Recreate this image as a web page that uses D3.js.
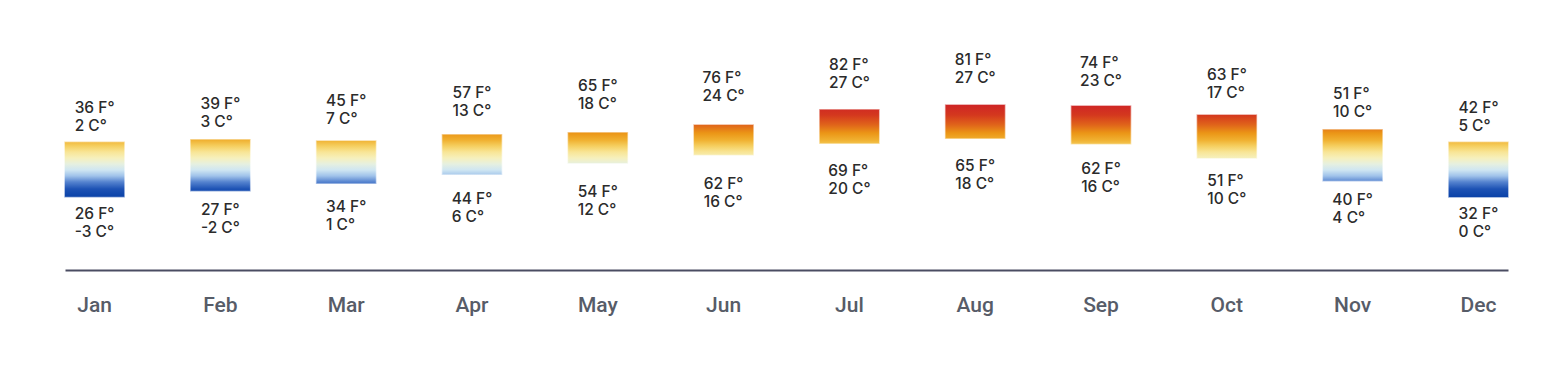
<!DOCTYPE html>
<html>
<head>
<meta charset="utf-8">
<script src="https://cdn.jsdelivr.net/npm/d3@7"></script>
<style>
    body { margin: 0; background: #fff; }
    svg { display: block; }
</style>
</head>
<body>
<div id="chart"></div>
<script>
// Data
const months = ["Jan", "Feb", "Mar", "Apr", "May", "Jun", "Jul", "Aug", "Sep", "Oct", "Nov", "Dec"];
const highF = [36, 39, 45, 57, 65, 76, 82, 81, 74, 63, 51, 42];
const highC = [2, 3, 7, 13, 18, 24, 27, 27, 23, 17, 10, 5];
const lowF = [26, 27, 34, 44, 54, 62, 69, 65, 62, 51, 40, 32];
const lowC = [-3, -2, 1, 6, 12, 16, 20, 18, 16, 10, 4, 0];

// plotted range of each bar (chart units)
const barHigh = [51.1, 52.1, 51.6, 54.1, 54.9, 58.0, 64.1, 66.0, 65.6, 62.0, 56.1, 51.1];
const barLow = [29.3, 31.7, 34.7, 38.3, 42.8, 46.1, 50.7, 52.7, 50.5, 44.8, 35.7, 29.2];

// colour ramp along the value axis (chart units)
const rampValues = [66, 62, 58, 54.8, 52, 49.6, 47.2, 44.8, 42.4, 40, 37.6, 35.2, 32.4, 29.2];
const rampColors = ["#cf2525", "#d4381e", "#e0651a", "#eb9516", "#f0b030", "#f5cf60", "#f8e596",
    "#f6f0bc", "#e6f0e0", "#cfe6f2", "#9fc2ea", "#5583cf", "#1d52b4", "#0a42a8"];

const data = months.map((m, i) => ({
    month: m, highF: highF[i], highC: highC[i], lowF: lowF[i], lowC: lowC[i],
    top: barHigh[i], bottom: barLow[i]
}));

const width = 1566, height = 376;
const baseY = 270;

const svg = d3.select("#chart").append("svg")
    .attr("width", width)
    .attr("height", height);

const x = d3.scaleBand()
    .domain(months)
    .range([65, 1508])
    .paddingInner(0.53)
    .paddingOuter(0);

const y = d3.scaleLinear()
    .domain([0, 100])
    .range([baseY, 20]);

// gradient tied to the value axis, shared by all bars
const grad = svg.append("defs").append("linearGradient")
    .attr("id", "tempGrad")
    .attr("gradientUnits", "userSpaceOnUse")
    .attr("x1", 0).attr("x2", 0)
    .attr("y1", y(rampValues[0]))
    .attr("y2", y(rampValues[rampValues.length - 1]));

const gTop = y(rampValues[0]), gBot = y(rampValues[rampValues.length - 1]);
grad.selectAll("stop")
    .data(rampValues)
    .enter().append("stop")
    .attr("offset", v => (y(v) - gTop) / (gBot - gTop))
    .attr("stop-color", (v, i) => rampColors[i]);

// Bars
svg.selectAll(".bar")
    .data(data)
    .enter().append("rect")
    .attr("class", "bar")
    .attr("x", d => x(d.month))
    .attr("y", d => y(d.top))
    .attr("width", x.bandwidth())
    .attr("height", d => y(d.bottom) - y(d.top))
    .attr("fill", "url(#tempGrad)")
    .attr("stroke", "url(#tempGrad)")
    .attr("stroke-opacity", 0.45)
    .attr("stroke-width", 1.5);

// Axis
const axis = svg.append("g")
    .attr("transform", `translate(0,${baseY})`)
    .call(d3.axisBottom(x).tickSize(0).tickSizeOuter(0));

axis.select(".domain")
    .attr("stroke", "#4a4c62")
    .attr("stroke-width", 2);

axis.selectAll("text")
    .attr("y", 42)
    .attr("dy", 0)
    .attr("fill", "#575c68")
    .style("font-family", "Roboto, sans-serif")
    .style("font-size", "21px")
    .style("font-weight", 500);

// Value labels: two-line blocks above and below each bar
const labelOffset = 53;
const lineGap = 18;

function addBlock(d, lines, centerY) {
    const cx = x(d.month) + x.bandwidth() / 2;
    const g = svg.append("g").attr("class", "label");
    const texts = lines.map((t, i) => g.append("text")
        .attr("y", centerY - 3.5 + i * lineGap)
        .attr("fill", "#2b2b2b")
        .style("font-family", "Inter, 'Open Sans', sans-serif")
        .style("font-size", "15.5px")
        .style("font-weight", 500)
        .text(t));
    const w = d3.max(texts, t => t.node().getComputedTextLength());
    texts.forEach(t => t.attr("x", cx - w / 2));
}

data.forEach(d => {
    const mid = (y(d.top) + y(d.bottom)) / 2;
    addBlock(d, [`${d.highF} F°`, `${d.highC} C°`], mid - labelOffset);
    addBlock(d, [`${d.lowF} F°`, `${d.lowC} C°`], mid + labelOffset);
});
</script>
</body>
</html>
